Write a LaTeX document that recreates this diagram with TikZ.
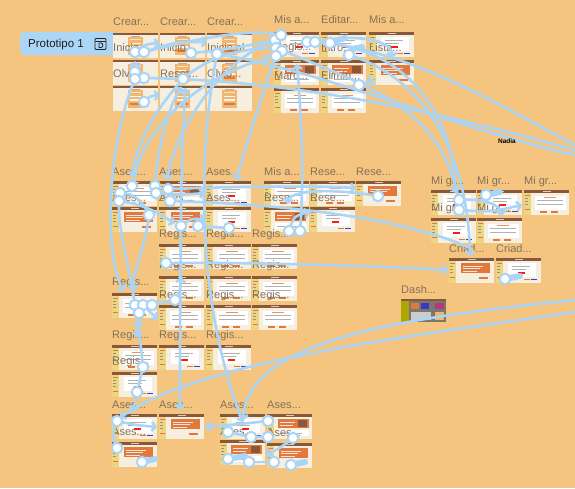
\documentclass[tikz,border=0pt]{standalone}
\usepackage{fontspec}
\setmainfont{Liberation Sans}
\usetikzlibrary{arrows.meta}
\definecolor{bg}{RGB}{245,197,128}
\definecolor{lbl}{RGB}{132,112,90}
\definecolor{cream}{RGB}{246,238,222}
\definecolor{hdr}{RGB}{135,88,58}
\definecolor{side}{RGB}{236,214,130}
\definecolor{og}{RGB}{226,120,60}
\definecolor{ogl}{RGB}{242,182,112}
\definecolor{wire}{RGB}{170,213,246}
\definecolor{badge}{RGB}{172,214,246}
\definecolor{dashc}{RGB}{122,119,108}
\newcommand\dd{...}
\tikzset{
 conn/.style={draw=wire, line width=2.6pt, line cap=round},
 arr/.style={conn, -{Straight Barb[length=3.6pt,width=9pt]}},
 blob/.style={draw=wire, line width=6pt, line cap=round},
 dotc/.style={circle, fill=white, draw=wire, line width=2pt, minimum size=10.5pt, inner sep=0pt},
 lab/.style={anchor=west, text=lbl, font=\fontsize{11}{12}\selectfont, inner sep=0pt},
}
\newcommand\frmL[2]{%
\begin{scope}[shift={(#1,#2)}]
 \fill[cream] (0,0) rectangle (45,25);
 \fill[hdr] (0,0) rectangle (45,2);
 \fill[hdr!50] (18,2.6) rectangle (27,3.3);
 \fill[ogl] (15,4) rectangle (30,22);
 \fill[white!60!ogl] (17,6.2) rectangle (28,7.2);
 \fill[white!85!ogl] (17,9.5) rectangle (28,11);
 \fill[white!85!ogl] (17,13) rectangle (28,14.5);
 \fill[og] (17,17) rectangle (28,18.6);
\end{scope}}
\newcommand\frmA[3]{%
\begin{scope}[shift={(#2,#3)}]
 \fill[cream] (0,0) rectangle (45,25);
 \fill[hdr] (0,0) rectangle (45,2.6);
 \fill[white!70!hdr] (19,0.8) rectangle (27,1.8);
 \fill[side] (0,2.6) rectangle (7,25);
 \fill[og] (1,4.5) rectangle (5.5,5.5);
 \fill[hdr!70] (1,7.5) rectangle (4,8.2);
 \fill[hdr!70] (1,10.5) rectangle (4,11.2);
 \fill[hdr!70] (1,13.5) rectangle (4,14.2);
 \fill[og] (1,19) rectangle (5.5,20.2);
 \ifcase#1
 \or
  \fill[white] (12,5) rectangle (40,19);
  \fill[gray!60] (16,8) rectangle (34,8.7);
  \fill[gray!60] (16,11) rectangle (30,11.7);
  \fill[red!75!og] (22,14) rectangle (29,15.6);
  \fill[og] (28,20.5) rectangle (34,22);
  \fill[blue!50!gray] (35,20.5) rectangle (41,22);
 \or
  \fill[og] (12,5) rectangle (41,15);
  \fill[white!80!og] (14,7.5) rectangle (34,8.2);
  \fill[white!80!og] (14,10) rectangle (31,10.7);
  \fill[white!80!og] (14,12.5) rectangle (28,13.2);
  \fill[og] (30,19) rectangle (39,21);
 \or
  \fill[white] (11,5.5) rectangle (42,20);
  \fill[og!80] (20,6.8) rectangle (32,7.6);
  \fill[gray!60] (13,10) rectangle (39,10.7);
  \fill[gray!60] (13,13.5) rectangle (39,14.2);
  \fill[og] (16,21) rectangle (23,22.8);
  \fill[og] (27,21) rectangle (34,22.8);
 \or
  \fill[og] (11,5) rectangle (42,14);
  \fill[hdr] (31,6) rectangle (40,13);
  \fill[white!80!og] (13,8) rectangle (28,8.7);
  \fill[white!80!og] (13,11) rectangle (26,11.7);
  \fill[white] (11,16) rectangle (42,22);
  \fill[gray!60] (13,18.5) rectangle (35,19.2);
 \fi
\end{scope}}
\begin{document}
\begin{tikzpicture}[x=1pt,y=-1pt]
\useasboundingbox (0,0) rectangle (575,488);
\fill[bg] (0,0) rectangle (575,488);
% prototype badge
\fill[badge, rounded corners=4pt] (20,32) rectangle (120,55);
\node[anchor=west, inner sep=0pt, text={rgb,255:red,30;green,30;blue,30}, font=\fontsize{11.5}{13}\selectfont] (proto) at (28,44.5) {Prototipo 1};
\draw[line width=0.9pt, rounded corners=1pt, black!85] (95,38.5) rectangle (106,49.5);
\draw[line width=0.9pt, black!85] (95,41) -- (106,41);
\draw[line width=0.8pt, black!85] (99,43) -- (99,47.5) -- (101,47.5) .. controls (103.5,47.5) and (103.5,43) .. (101,43) -- cycle;
% frames: Crear group
\foreach \x in {113,160,207} \foreach \y in {33,60,86} {\frmL{\x}{\y}}
% Mis a group
\frmA{1}{274}{32}\frmA{1}{321}{32}\frmA{1}{369}{32}
\frmA{4}{274}{60}\frmA{4}{321}{60}\frmA{2}{369}{60}
\frmA{3}{274}{88}\frmA{3}{321}{88}
% mid Ases
\frmA{3}{112}{181}\frmA{4}{159}{181}\frmA{1}{206}{181}
\frmA{2}{112}{207}\frmA{2}{159}{207}\frmA{1}{206}{207}
% Mis a / Rese
\frmA{3}{264}{181}\frmA{3}{310}{181}\frmA{2}{356}{181}
\frmA{4}{264}{207}\frmA{1}{310}{207}
% Regis
\foreach \x in {159,206,252} \foreach \y in {244,276,305} {\frmA{3}{\x}{\y}}
\frmA{3}{112}{293}
\frmA{3}{112}{345}\frmA{1}{159}{345}\frmA{1}{206}{345}
\frmA{1}{112}{372}
% Ases bottom
\frmA{1}{112}{414}\frmA{2}{159}{414}\frmA{2}{112}{442}
\frmA{1}{220}{414}\frmA{4}{220}{440}\frmA{4}{267}{414}\frmA{2}{267}{443}
% Mi gr
\frmA{1}{431}{190}\frmA{1}{477}{190}\frmA{3}{524}{190}
\frmA{1}{431}{218}\frmA{3}{477}{218}
% Criad
\frmA{2}{449}{258}\frmA{1}{496}{258}
% Dash
\begin{scope}[shift={(401,299)}]
 \fill[dashc] (0,0) rectangle (45,23);
 \fill[hdr] (0,0) rectangle (45,1.6);
 \fill[olive!70!yellow] (0,1.6) rectangle (8,23);
 \fill[og] (10,4) rectangle (18,10);
 \fill[blue!55!gray] (20,4) rectangle (28,10);
 \fill[magenta!70!black] (34,4) rectangle (43,10);
 \fill[gray!40] (10,13) rectangle (30,21);
 \fill[ogl] (34,13) rectangle (43,21);
\end{scope}
% labels
\foreach \x/\y/\t in {113/22/Crear\dd, 160/22/Crear\dd, 207/22/Crear\dd,
  113/48/Inicio, 160/48/Inicio, 207/48/Inicio al\dd,
  113/74/Olvi\dd, 160/74/Reset\dd, 207/74/Olvid\dd,
  274/20/Mis a\dd, 321/20/Editar\dd, 369/20/Mis a\dd,
  274/48/Regis\dd, 321/48/Intro\dd, 369/48/Lista\dd,
  274/76/Marc\dd, 321/76/Elimin\dd,
  112/172/Ases\dd, 159/172/Ases\dd, 206/172/Ases\dd,
  112/198/Ases\dd, 159/198/Ases\dd, 206/198/Ases\dd,
  264/172/Mis a\dd, 310/172/Rese\dd, 356/172/Rese\dd,
  264/198/Rese\dd, 310/198/Rese\dd,
  159/235/Regis\dd, 206/235/Regis\dd, 252/235/Regis\dd,
  159/266/Regis\dd, 206/266/Regis\dd, 252/266/Regis\dd,
  159/296/Regis\dd, 206/296/Regis\dd, 252/296/Regis\dd,
  112/283/Regis\dd,
  112/336/Regis\dd, 159/336/Regis\dd, 206/336/Regis\dd,
  112/362/Regis\dd,
  112/405/Ases\dd, 159/405/Ases\dd, 220/405/Ases\dd, 267/405/Ases\dd,
  112/432/Ases\dd, 220/432/Ases\dd, 267/433/Ases\dd,
  431/182/Mi gr\dd, 477/182/Mi gr\dd, 524/182/Mi gr\dd,
  431/209/Mi gr\dd, 477/209/Mi gr\dd,
  449/249/Criad\dd, 496/249/Criad\dd,
  401/290/Dash\dd}
  {\node[lab] at (\x,\y) {\t};}
% connector points
\foreach \n/\x/\y in {a1/135/52, a2/144/52, a3/191/53, a4/217/54, a5/135/72, a6/144/78, a7/135/79, a8/183/79, a9/144/102,
  b1/275/40, b2/281/35, b3/276/48, b4/282/51, b5/276/56, b6/307/42, b7/315/42, b8/330/43, b9/349/55, b10/359/85,
  c1/132/186, c2/120/193, c3/119/201, c4/155/186, c5/156/193, c6/168/189, c7/170/201, c8/149/215, c9/181/226, c10/198/226, c11/229/228, c12/289/231, c13/300/231, c14/378/196,
  d1/166/263, d2/175/300, d3/135/305, d4/143/305, d5/152/305, d6/139/313, d7/143/367, d8/137/392,
  e1/117/421, e2/117/448, e3/142/462, e4/228/432, e5/251/437, e6/268/421, e7/268/437, e8/293/438, e9/228/459, e10/249/462, e11/274/462, e12/291/465,
  f1/459/200, f2/459/210, f3/486/195, f4/505/279}
  {\coordinate (\n) at (\x,\y);}
\coordinate (rA) at (575,150); \coordinate (rB) at (575,155); \coordinate (rC) at (575,145);
\coordinate (rD) at (575,312); \coordinate (rE) at (575,300);
% connectors
\draw[arr] (a1) .. controls (146,44) .. (160,43);
\draw[arr] (a2) .. controls (175,42) .. (207,42);
\draw[arr] (a5) -- (135,61);
\draw[arr] (a7) .. controls (105,150) and (105,260) .. (124,291);
\draw[conn] (a6) .. controls (300,80) and (450,115) .. (rA);
\draw[arr] (a9) .. controls (150,96) .. (160,95);
\draw[conn] (a3) .. controls (230,50) and (255,44) .. (b1);
\draw[conn] (a4) .. controls (320,70) and (460,130) .. (rB);
\draw[conn] (a8) .. controls (210,55) and (245,48) .. (b3);
\draw[arr] (a8) .. controls (155,110) and (135,145) .. (133,177);
\draw[arr] (c4) .. controls (158,140) and (172,100) .. (182,87);
\draw[arr] (c9) .. controls (181,160) and (184,120) .. (185,88);
\draw[arr] (c1) .. controls (140,130) and (200,75) .. (270,58);
\draw[arr] (b5) .. controls (260,100) and (245,150) .. (236,180);
\draw[arr] (a4) .. controls (198,150) and (195,300) .. (243,422);
\draw[arr] (b1) .. controls (220,60) and (175,130) .. (167,180);
\draw[conn] (b6) .. controls (400,45) and (490,100) .. (rC);
\draw[arr] (b8) .. controls (420,55) and (455,130) .. (455,193);
\draw[arr] (b9) .. controls (430,80) and (468,160) .. (470,256);
\draw[arr] (b7) .. controls (350,34) and (392,38) .. (392,58);
\draw[arr] (b10) .. controls (365,83) .. (375,80);
\draw[conn] (b2) .. controls (250,28) and (200,38) .. (a2);
\draw[conn] (b3) .. controls (380,90) and (440,110) .. (f1);
\draw[arr] (c13) .. controls (305,170) and (300,100) .. (297,64);
\draw[arr] (c6) .. controls (250,186) and (320,186) .. (356,188);
\draw[conn] (c7) .. controls (320,205) and (420,225) .. (470,248);
\draw[arr] (c14) .. controls (330,188) and (290,190) .. (287,204);
\draw[arr] (c12) .. controls (294,216) .. (310,212);
\draw[conn] (c12) -- (c13);
\draw[arr] (c9) .. controls (192,218) .. (205,220);
\draw[conn] (c10) -- (c11);
\draw[conn] (c2) .. controls (135,192) and (145,205) .. (c8);
\draw[arr] (c3) .. controls (150,205) and (165,218) .. (175,223);
\draw[arr] (c5) .. controls (180,195) .. (205,193);
\draw[arr] (c8) .. controls (145,250) and (133,270) .. (133,291);
\draw[arr] (c9) .. controls (180,300) and (180,370) .. (180,410);
\draw[arr] (d1) .. controls (250,262) and (380,266) .. (448,270);
\draw[arr] (d2) .. controls (180,292) .. (181,277);
\draw[arr] (d4) .. controls (150,312) .. (158,319);
\draw[conn] (d5) .. controls (162,302) .. (d2);
\draw[arr] (d6) -- (137,338);
\draw[conn] (d3) .. controls (128,260) and (118,230) .. (c3);
\draw[conn] (d7) .. controls (140,380) .. (d8);
\draw[arr] (d8) -- (133,412);
\draw[arr] (d7) -- (138,320);
\draw[arr] (e1) .. controls (135,425) .. (157,427);
\draw[conn] (e2) .. controls (112,435) .. (e1);
\draw[arr] (e6) .. controls (240,424) .. (205,427);
\draw[arr] (e8) .. controls (280,448) .. (266,455);
\draw[conn] (e4) -- (e5) -- (e7);
\draw[conn] (e10) -- (e11);
\draw[arr] (rD) .. controls (420,335) and (200,360) .. (120,418);
\draw[arr] (rE) .. controls (400,318) and (248,340) .. (243,420);
\draw[arr] (f2) .. controls (490,212) .. (522,205);
\draw[arr] (f1) .. controls (485,198) and (500,205) .. (502,216);
\draw[blob] (e3) -- (155,459);
\draw[blob] (e9) -- (245,456);
\draw[blob] (e12) -- (305,462);
\draw[blob] (f3) -- (500,192);
\draw[blob] (f4) -- (520,276);
\draw[blob] (335,41) -- (345,38);
\draw[blob] (352,49) -- (362,47);
% start circles
\foreach \n in {a1,a2,a3,a4,a5,a6,a7,a8,a9,b1,b2,b3,b4,b5,b6,b7,b8,b9,b10,c1,c2,c3,c4,c5,c6,c7,c8,c9,c10,c11,c12,c13,c14,d1,d2,d3,d4,d5,d6,d7,d8,e1,e2,e3,e4,e5,e6,e7,e8,e9,e10,e11,e12,f1,f2,f3,f4}
  {\node[dotc] at (\n) {};}
\node[font=\bfseries\fontsize{6.5}{7}\selectfont, inner sep=0pt] (nadia) at (507,141) {Nadia};
\end{tikzpicture}
\end{document}
